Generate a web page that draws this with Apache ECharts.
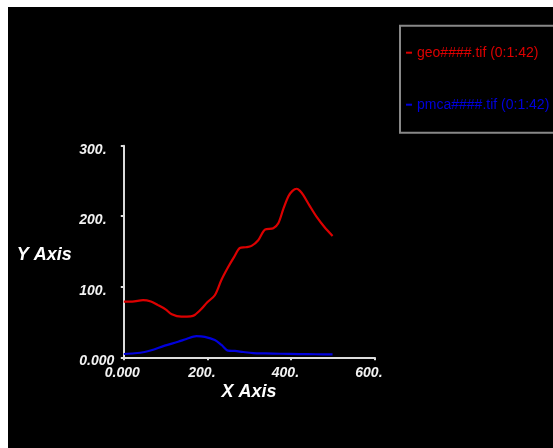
<!DOCTYPE html>
<html><head><meta charset="utf-8">
<script src="https://cdn.jsdelivr.net/npm/echarts@6/dist/echarts.min.js"></script>
<style>
html,body{margin:0;padding:0;background:#fff;width:553px;height:448px;overflow:hidden;}
#c{position:absolute;left:8px;top:7px;width:545px;height:441px;background:#000;}
</style></head>
<body><div id="c"></div>
<script>
const seriesNames = ['geo####.tif (0:1:42)', 'pmca####.tif (0:1:42)'];
const geoX = [0,20,46,65,82,100,115,138,160,170,185,200,218,234,250,264,278,292,306,322,338,358,370,382,394,404,414,422,430,446,462,480,500];
const geoY = [79,79,81,79,74,68,61,57.6,58,60,68,78,88,110,128,142,155,156,158,166,181,183,190,210,228,236,239,236,230,214,199,185,172];
const pmcaX = [0,26,50,66,98,130,150,174,194,218,234,250,266,286,310,340,374,420,460,500];
const pmcaY = [4.7,5.7,7.5,10,16.5,22,26,30,29,24.5,17.5,9.4,9,7.5,6,5.5,5,4.5,4.3,4.2];
const xTickLabels = {0:'0.000',200:'200.',400:'400.',600:'600.'};
const yTickLabels = {0:'0.000',100:'100.',200:'200.',300:'300.'};
const colors = ['#dc0000','#0000dc'];

const zip = (xs, ys) => xs.map((x, i) => [x, ys[i]]);
const font = '"Liberation Sans", Arial, sans-serif';

const chart = echarts.init(document.getElementById('c'));
chart.setOption({
  backgroundColor: '#000',
  animation: false,
  grid: {left: 115.8, right: 178.7, top: 138.7, bottom: 90.7},
  legend: {
    orient: 'vertical',
    left: 392, top: 18.7,
    padding: [20, 40, 21, 6],
    itemGap: 38,
    itemWidth: 6, itemHeight: 2,
    icon: 'rect',
    borderColor: '#888', borderWidth: 2,
    textStyle: {fontFamily: font, fontSize: 14},
    data: [
      {name: seriesNames[0], textStyle: {color: colors[0]}},
      {name: seriesNames[1], textStyle: {color: colors[1]}}
    ]
  },
  xAxis: {
    type: 'value', min: 0, max: 600, interval: 200,
    name: 'X Axis', nameLocation: 'middle', nameGap: 26,
    nameTextStyle: {color: '#fff', fontFamily: font, fontSize: 18, fontWeight: 'bold', fontStyle: 'italic'},
    axisLine: {lineStyle: {color: '#ddd', width: 2}},
    axisTick: {length: 3, lineStyle: {color: '#ddd', width: 2}},
    splitLine: {show: false},
    axisLabel: {
      color: '#f2f2f2', fontFamily: font, fontSize: 14, fontWeight: 'bold', fontStyle: 'italic',
      margin: 9, align: 'center', width: 38, overflow: 'none',
      formatter: v => '{a|' + (xTickLabels[v] || v) + '}',
      rich: {a: {align: 'left', color: '#f2f2f2', fontFamily: font, fontSize: 14, fontWeight: 'bold', fontStyle: 'italic'}}
    }
  },
  yAxis: {
    type: 'value', min: 0, max: 300, interval: 100,
    name: 'Y Axis', nameLocation: 'middle', nameGap: 52, nameRotate: 0,
    nameTextStyle: {color: '#fff', fontFamily: font, fontSize: 18, fontWeight: 'bold', fontStyle: 'italic', verticalAlign: 'top', lineHeight: 7},
    axisLine: {show: true, lineStyle: {color: '#ddd', width: 2}},
    axisTick: {show: true, length: 3, lineStyle: {color: '#ddd', width: 2}},
    splitLine: {show: false},
    axisLabel: {
      color: '#f2f2f2', fontFamily: font, fontSize: 14, fontWeight: 'bold', fontStyle: 'italic',
      align: 'left', margin: 44.5, verticalAlign: 'top', lineHeight: 8,
      formatter: v => yTickLabels[v] || String(v)
    }
  },
  series: [
    {name: seriesNames[0], type: 'line', data: zip(geoX, geoY), showSymbol: false, smooth: 0.3,
     lineStyle: {color: colors[0], width: 2.2}, itemStyle: {color: colors[0]}},
    {name: seriesNames[1], type: 'line', data: zip(pmcaX, pmcaY), showSymbol: false, smooth: 0.3,
     lineStyle: {color: colors[1], width: 2.2}, itemStyle: {color: colors[1]}}
  ]
});
</script></body></html>
